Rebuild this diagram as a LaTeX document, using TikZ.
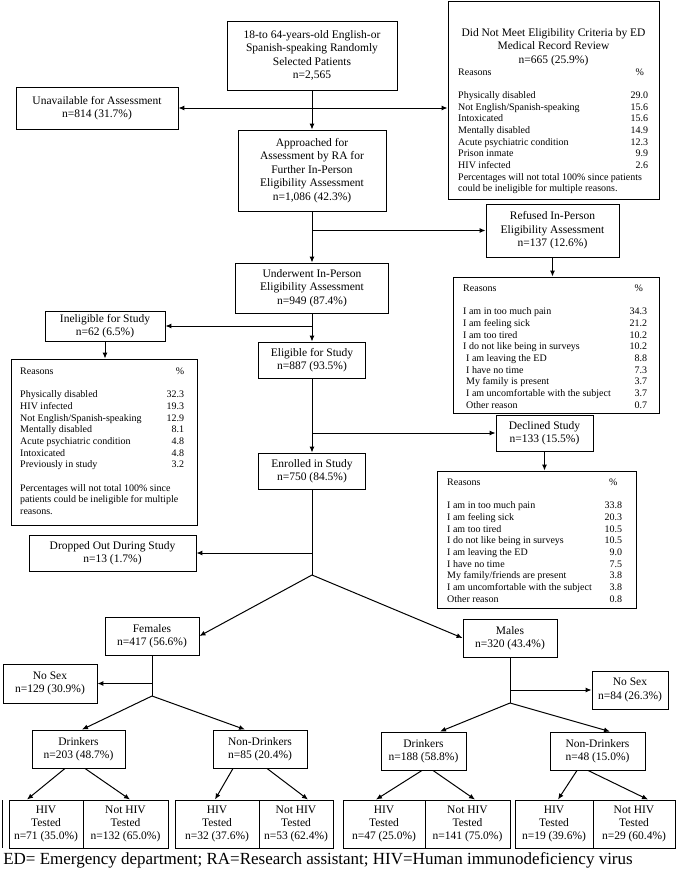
\documentclass[tikz,border=0pt]{standalone}
\usepackage{fontspec}
\setmainfont{Liberation Serif}
\usetikzlibrary{arrows.meta}
\newcommand{\lrow}[3]{\makebox[#1][l]{#2\hfill #3}}
\begin{document}
\begin{tikzpicture}[x=1pt,y=-1pt,
  box/.style={draw, line width=0.9pt, inner sep=0pt, align=center, font=\fontsize{11.5}{13.4}\selectfont},
  lst/.style={inner sep=0pt, anchor=north west, font=\fontsize{10}{11.67}\selectfont},
  arr/.style={line width=1pt, -{Latex[length=6pt,width=5pt]}},
  ln/.style={line width=1pt}]
\useasboundingbox (0,0) rectangle (685,870);

% main column
\node[box, minimum width=170pt, minimum height=69pt] (top) at (312,55.5)
  {18-to 64-years-old English-or\\Spanish-speaking Randomly\\Selected Patients\\n=2,565};
\node[box, minimum width=162pt, minimum height=42pt] (unav) at (97,108)
  {Unavailable for Assessment\\n=814 (31.7\%)};
\node[box, minimum width=211pt, minimum height=198pt] (dnm) at (553.5,100) {};
\node[inner sep=0pt, align=center, font=\fontsize{11.5}{13.6}\selectfont] (dnmt) at (553.5,47)
  {Did Not Meet Eligibility Criteria by ED\\Medical Record Review\\n=665 (25.9\%)};
\node[lst] (dnml) at (458,66.8) {\begin{tabular}{@{}l@{}}
\lrow{190pt}{Reasons}{\makebox[17pt]{\%}}\\
\\
\lrow{190pt}{Physically disabled}{29.0}\\
\lrow{190pt}{Not English/Spanish-speaking}{15.6}\\
\lrow{190pt}{Intoxicated}{15.6}\\
\lrow{190pt}{Mentally disabled}{14.9}\\
\lrow{190pt}{Acute psychiatric condition}{12.3}\\
\lrow{190pt}{Prison inmate}{9.9}\\
\lrow{190pt}{HIV infected}{2.6}\\
*Percentages will not total 100\% since patients\\
could be ineligible for multiple reasons.
\end{tabular}};

\node[box, minimum width=148pt, minimum height=81pt] (appr) at (312,170.5)
  {Approached for\\Assessment by RA for\\Further In-Person\\Eligibility Assessment\\n=1,086 (42.3\%)};
\node[box, minimum width=133pt, minimum height=53pt] (ref) at (552.5,230.5)
  {Refused In-Person\\Eligibility Assessment\\n=137 (12.6\%)};
\node[box, minimum width=206pt, minimum height=136pt] (refr) at (556,345) {};
\node[lst] (refl) at (463,283.1) {\begin{tabular}{@{}l@{}}
\lrow{184pt}{Reasons}{\makebox[17pt]{\%}}\\
\\
\lrow{184pt}{I am in too much pain}{34.3}\\
\lrow{184pt}{I am feeling sick}{21.2}\\
\lrow{184pt}{I am too tired}{10.2}\\
\lrow{184pt}{I do not like being in surveys}{10.2}\\
\lrow{184pt}{\hspace*{3pt}I am leaving the ED}{8.8}\\
\lrow{184pt}{\hspace*{3pt}I have no time}{7.3}\\
\lrow{184pt}{\hspace*{3pt}My family is present}{3.7}\\
\lrow{184pt}{\hspace*{3pt}I am uncomfortable with the subject}{3.7}\\
\lrow{184pt}{\hspace*{3pt}Other reason}{0.7}
\end{tabular}};

\node[box, minimum width=153pt, minimum height=50pt] (und) at (312,288)
  {Underwent In-Person\\Eligibility Assessment\\n=949 (87.4\%)};
\node[box, minimum width=120pt, minimum height=30pt] (inel) at (105,326)
  {Ineligible for Study\\n=62 (6.5\%)};
\node[box, minimum width=186pt, minimum height=166pt] (inelr) at (104,442) {};
\node[lst] (inell) at (20,366.1) {\begin{tabular}{@{}l@{}}
\lrow{164pt}{Reasons}{\%}\\
\\
\lrow{164pt}{Physically disabled}{32.3}\\
\lrow{164pt}{HIV infected}{19.3}\\
\lrow{164pt}{Not English/Spanish-speaking}{12.9}\\
\lrow{164pt}{Mentally disabled}{8.1}\\
\lrow{164pt}{Acute psychiatric condition}{4.8}\\
\lrow{164pt}{Intoxicated}{4.8}\\
\lrow{164pt}{Previously in study}{3.2}\\
\\
*Percentages will not total 100\% since\\
patients could be ineligible for multiple\\
reasons.
\end{tabular}};

\node[box, minimum width=107pt, minimum height=36pt] (elig) at (312,360)
  {Eligible for Study\\n=887 (93.5\%)};
\node[box, minimum width=97pt, minimum height=36pt] (decl) at (544.5,433)
  {Declined Study\\n=133 (15.5\%)};
\node[box, minimum width=199pt, minimum height=137pt] (declr) at (536.5,539.5) {};
\node[lst] (decll) at (447,477.1) {\begin{tabular}{@{}l@{}}
\lrow{175pt}{Reasons}{\makebox[18pt]{\%}}\\
\\
\lrow{175pt}{I am in too much pain}{33.8}\\
\lrow{175pt}{I am feeling sick}{20.3}\\
\lrow{175pt}{I am too tired}{10.5}\\
\lrow{175pt}{I do not like being in surveys}{10.5}\\
\lrow{175pt}{I am leaving the ED}{9.0}\\
\lrow{175pt}{I have no time}{7.5}\\
\lrow{175pt}{My family/friends are present}{3.8}\\
\lrow{175pt}{I am uncomfortable with the subject}{3.8}\\
\lrow{175pt}{Other reason}{0.8}
\end{tabular}};

\node[box, minimum width=107pt, minimum height=36pt] (enr) at (312,471)
  {Enrolled in Study\\n=750 (84.5\%)};
\node[box, minimum width=167pt, minimum height=36pt] (drop) at (112.5,553)
  {Dropped Out During Study\\n=13 (1.7\%)};
\coordinate (fork) at (312,575);

\node[box, minimum width=94pt, minimum height=38pt] (fem) at (152,636) {Females\\n=417 (56.6\%)};
\node[box, minimum width=94pt, minimum height=38pt] (male) at (510,638) {Males\\n=320 (43.4\%)};
\node[box, minimum width=94pt, minimum height=39pt] (nsf) at (50,683.5) {No Sex\\n=129 (30.9\%)};
\node[box, minimum width=76pt, minimum height=38pt] (nsm) at (630,690) {No Sex\\n=84 (26.3\%)};
\coordinate (ff) at (152,696);
\coordinate (mf) at (510,703);

\node[box, minimum width=93pt, minimum height=38pt] (fdr) at (78.5,749) {Drinkers\\n=203 (48.7\%)};
\node[box, minimum width=94pt, minimum height=38pt] (fnd) at (260,749) {Non-Drinkers\\n=85 (20.4\%)};
\node[box, minimum width=85pt, minimum height=38pt] (mdr) at (423.5,751) {Drinkers\\n=188 (58.8\%)};
\node[box, minimum width=95pt, minimum height=38pt] (mnd) at (597.5,751) {Non-Drinkers\\n=48 (15.0\%)};

\node[box, minimum width=74pt, minimum height=48pt] (f1) at (46,824) {HIV\\Tested\\n=71 (35.0\%)};
\node[box, minimum width=85pt, minimum height=48pt] (f2) at (125.5,824) {Not HIV\\Tested\\n=132 (65.0\%)};
\node[box, minimum width=84pt, minimum height=48pt] (f3) at (217,824) {HIV\\Tested\\n=32 (37.6\%)};
\node[box, minimum width=74pt, minimum height=48pt] (f4) at (296,824) {Not HIV\\Tested\\n=53 (62.4\%)};
\node[box, minimum width=82pt, minimum height=48pt] (m1) at (384,824) {HIV\\Tested\\n=47 (25.0\%)};
\node[box, minimum width=85pt, minimum height=48pt] (m2) at (467.5,824) {Not HIV\\Tested\\n=141 (75.0\%)};
\node[box, minimum width=78pt, minimum height=48pt] (m3) at (554,824) {HIV\\Tested\\n=19 (39.6\%)};
\node[box, minimum width=82pt, minimum height=48pt] (m4) at (634,824) {Not HIV\\Tested\\n=29 (60.4\%)};
\draw[line width=0.9pt] (2,800) -- (2,848);

\node[inner sep=0pt, font=\fontsize{17}{20}\selectfont] (foot) at (318,860)
  {ED= Emergency department; RA=Research assistant; HIV=Human immunodeficiency virus};

% connectors
\coordinate (j1) at (312,108);
\draw[arr] (top.south) -- (appr.north);
\draw[arr] (j1) -- (unav.east);
\draw[arr] (j1) -- (j1 -| dnm.west);
\coordinate (j2) at (312,230.5);
\draw[arr] (appr.south) -- (und.north);
\draw[arr] (j2) -- (ref.west);
\draw[arr] (ref.south) -- (ref.south |- refr.north);
\coordinate (j3) at (312,326);
\draw[arr] (und.south) -- (elig.north);
\draw[arr] (j3) -- (inel.east);
\draw[arr] (inel.south) -- (inel.south |- inelr.north);
\coordinate (j4) at (312,433);
\draw[arr] (elig.south) -- (enr.north);
\draw[arr] (j4) -- (decl.west);
\draw[arr] (decl.south) -- (decl.south |- declr.north);
\draw[ln] (enr.south) -- (fork);
\coordinate (j5) at (312,553);
\draw[arr] (j5) -- (drop.east);
\draw[arr] (fork) -- (fem.east);
\draw[arr] (fork) -- (male.west);
\draw[ln] (fem.south) -- (ff);
\coordinate (j6) at (152,683.5);
\draw[arr] (j6) -- (nsf.east);
\draw[arr] (ff) -- ([xshift=3.5pt]fdr.north);
\draw[arr] (ff) -- ([xshift=-15pt]fnd.north);
\draw[ln] (male.south) -- (mf);
\coordinate (j7) at (510,690);
\draw[arr] (j7) -- (nsm.west);
\draw[arr] (mf) -- ([xshift=16.5pt]mdr.north);
\draw[arr] (mf) -- ([xshift=12.5pt]mnd.north);
\draw[arr] ([xshift=-13.5pt]fdr.south) -- ([xshift=-19pt]f1.north);
\draw[arr] ([xshift=6.5pt]fdr.south) -- ([xshift=4.5pt]f2.north);
\draw[arr] ([xshift=-27pt]fnd.south) -- ([xshift=-2pt]f3.north);
\draw[arr] ([xshift=7pt]fnd.south) -- ([xshift=12pt]f4.north);
\draw[arr] ([xshift=-1.5pt]mdr.south) -- ([xshift=-8pt]m1.north);
\draw[arr] ([xshift=9.5pt]mdr.south) -- ([xshift=7.5pt]m2.north);
\draw[arr] ([xshift=-20.5pt]mnd.south) -- ([xshift=4pt]m3.north);
\draw[arr] ([xshift=-9.5pt]mnd.south) -- ([xshift=14pt]m4.north);
\end{tikzpicture}
\end{document}
